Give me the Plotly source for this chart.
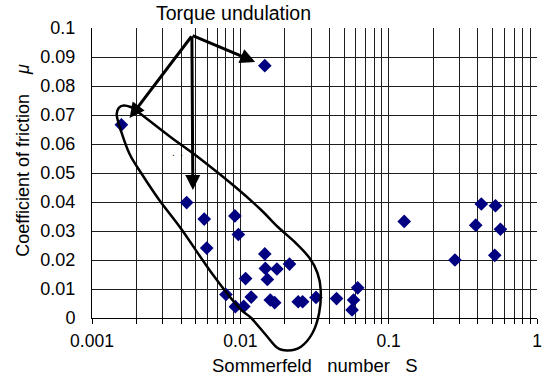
import plotly.graph_objects as go

# ---- data ----
sommerfeld = [0.01462, 0.001578, 0.004345, 0.00571, 0.005933, 0.009191, 0.009697,
              0.008002, 0.009262, 0.01055, 0.01085, 0.01184, 0.01462, 0.01475,
              0.01765, 0.02145, 0.01521, 0.01592, 0.01704, 0.02455, 0.0263,
              0.03236, 0.04453, 0.05665, 0.05798, 0.06184, 0.1273, 0.2797,
              0.3862, 0.4214, 0.5248, 0.5667, 0.5192]
friction = [0.0870, 0.0666, 0.0398, 0.0341, 0.0241, 0.0352, 0.0288,
            0.0081, 0.0039, 0.0040, 0.0136, 0.0072, 0.0221, 0.0171,
            0.0169, 0.0186, 0.0133, 0.0062, 0.0053, 0.0056, 0.0056,
            0.0071, 0.0067, 0.0028, 0.0062, 0.0104, 0.0333, 0.0200,
            0.0320, 0.0393, 0.0387, 0.0306, 0.0216]

x_tickvals = [0.001, 0.01, 0.1, 1]
x_ticktext = ["0.001", "0.01", "0.1", "1"]
y_tickvals = [i / 100 for i in range(11)]
y_ticktext = ["0", "0.01", "0.02", "0.03", "0.04", "0.05", "0.06", "0.07", "0.08", "0.09", "0.1"]
x_minor = [k * 10 ** e for e in (-3, -2, -1) for k in range(2, 10)]

W, H = 551, 376
ML, MR, MT, MB = 92, 9, 28, 58
PW, PH = W - ML - MR, H - MT - MB


def paper(px, py):
    return (px - ML) / PW, (H - MB - py) / PH


# loop outline (pixel positions in the page)
loop_px = [(136, 110), (170, 136), (203, 160), (237, 187), (262, 209), (280, 227),
           (298, 243), (312, 258), (320, 273), (323.3, 290), (321.7, 313), (315, 333),
           (303, 347), (290, 350.5), (279, 347.5), (267, 334), (253, 318), (240, 307),
           (213, 273), (183, 230), (160, 200), (143, 175), (130, 154), (121, 130),
           (117, 115), (119, 108), (124, 105.5), (131, 107)]


def catmull_path(pts, closed=True):
    n = len(pts)
    P = [paper(*p) for p in pts]
    d = "M %.5f,%.5f" % P[0]
    rng = range(n) if closed else range(n - 1)
    for i in rng:
        p0 = P[(i - 1) % n]
        p1 = P[i]
        p2 = P[(i + 1) % n]
        p3 = P[(i + 2) % n]
        c1 = (p1[0] + (p2[0] - p0[0]) / 6, p1[1] + (p2[1] - p0[1]) / 6)
        c2 = (p2[0] - (p3[0] - p1[0]) / 6, p2[1] - (p3[1] - p1[1]) / 6)
        d += " C %.5f,%.5f %.5f,%.5f %.5f,%.5f" % (c1[0], c1[1], c2[0], c2[1], p2[0], p2[1])
    return d


fig = go.Figure()
fig.add_trace(go.Scatter(
    x=sommerfeld, y=friction, mode="markers",
    marker=dict(symbol="diamond", size=10.5, color="#000080", line=dict(width=0)),
    showlegend=False, cliponaxis=False))

FONT = "Liberation Sans, Arial, sans-serif"
grid_col = "#1e1e1e"

fig.update_layout(
    width=W, height=H,
    margin=dict(l=ML, r=MR, t=MT, b=MB, pad=0),
    paper_bgcolor="white", plot_bgcolor="white",
    font=dict(family=FONT, size=18, color="black"),
    xaxis=dict(type="log", range=[-3, 0], tickvals=x_tickvals, ticktext=x_ticktext,
               showgrid=True, gridcolor=grid_col, gridwidth=1,
               showline=True, linecolor="black", linewidth=1,
               ticks="outside", ticklen=5, tickcolor="black",
               minor=dict(tickvals=x_minor, showgrid=True, gridcolor=grid_col, gridwidth=1,
                          ticks="outside", ticklen=5, tickcolor="black"),
               tickfont=dict(size=17.5), ticklabelstandoff=2, zeroline=False),
    yaxis=dict(range=[0, 0.1], tickvals=y_tickvals, ticktext=y_ticktext,
               showgrid=True, gridcolor=grid_col, gridwidth=1,
               showline=True, linecolor="black", linewidth=1,
               ticks="", tickfont=dict(size=18), ticklabelstandoff=12, zeroline=False),
)

shapes = [dict(type="path", xref="paper", yref="paper", path=catmull_path(loop_px),
               line=dict(color="black", width=2.5), fillcolor="rgba(0,0,0,0)", layer="above")]
fig.update_layout(shapes=shapes)

anns = []
tail = (193, 35)
for head in [(257, 62), (130, 118), (194, 190)]:
    hx, hy = paper(*head)
    anns.append(dict(xref="paper", yref="paper", x=hx, y=hy, text="", showarrow=True,
                     arrowhead=2, arrowsize=1, arrowwidth=3, arrowcolor="black",
                     ax=tail[0] - head[0], ay=tail[1] - head[1], standoff=0))

tx, ty = paper(235, 13)
anns.append(dict(xref="paper", yref="paper", x=tx, y=ty, text="Torque undulation",
                 showarrow=False, xanchor="center", yanchor="middle", font=dict(size=19.5)))
dx, dy = paper(178.5, 152)
anns.append(dict(xref="paper", yref="paper", x=dx, y=dy, text=".\u00a0\u00a0.",
                 showarrow=False, xanchor="center", yanchor="middle", font=dict(size=10)))
sx, sy = paper(317, 365)
anns.append(dict(xref="paper", yref="paper", x=sx, y=sy,
                 text="Sommerfeld\u00a0\u00a0\u00a0number\u00a0\u00a0\u00a0S",
                 showarrow=False, xanchor="center", yanchor="middle", font=dict(size=18.5)))
yx, yy = paper(22, 160)
anns.append(dict(xref="paper", yref="paper", x=yx, y=yy,
                 text="Coefficient of friction\u00a0\u00a0\u00a0\u00a0<i>\u03bc</i>",
                 textangle=-90, showarrow=False, xanchor="center", yanchor="middle",
                 font=dict(size=18)))
fig.update_layout(annotations=anns)

fig.write_html("out.html")
